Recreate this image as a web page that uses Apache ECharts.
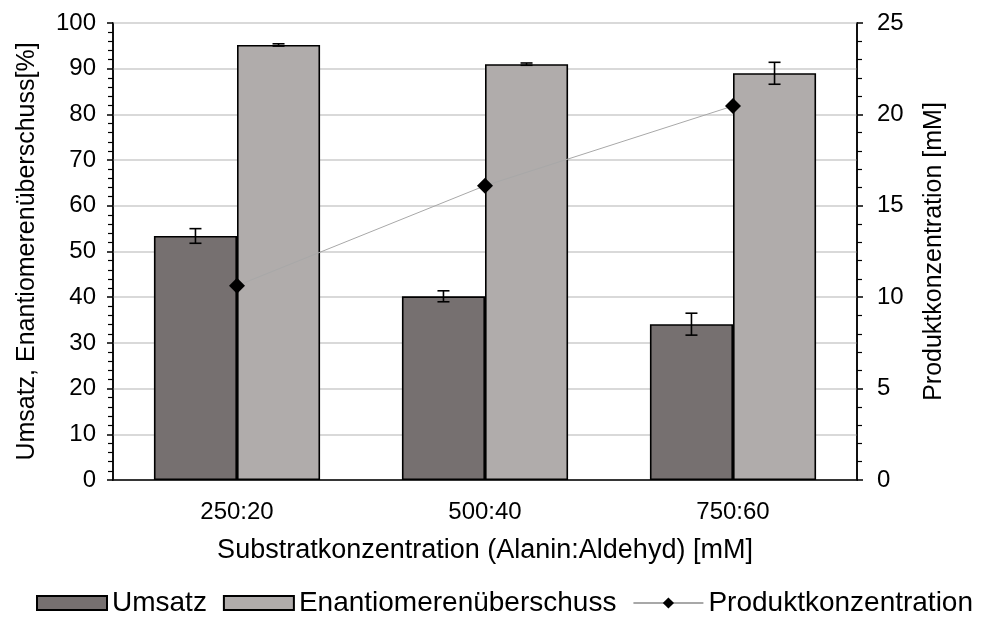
<!DOCTYPE html>
<html lang="de">
<head>
<meta charset="utf-8">
<title>Substratkonzentration</title>
<script src="https://cdn.jsdelivr.net/npm/echarts@6/dist/echarts.min.js"></script>
<style>
  html, body { margin: 0; padding: 0; background: #fff; }
  #main { width: 983px; height: 619px; }
</style>
</head>
<body>
<div id="main"></div>
<script type="text/javascript">
  // Daten
  var categories = ['250:20', '500:40', '750:60'];
  var umsatz = [53.4, 40.2, 34.1];
  var umsatzErr = [1.6, 1.2, 2.4];
  var enantio = [95.2, 91.0, 89.0];
  var enantioErr = [0.25, 0.25, 2.4];
  var produkt = [10.63, 16.1, 20.46];

  var BAR_W = 0.335; // Anteil der Kategoriebreite je Balken
  var FONT = 'Liberation Sans, Arial, sans-serif';

  // Fehlerbalken als custom series
  function errorSeries(values, errs, side) {
    var data = values.map(function (v, i) { return [i, v - errs[i], v + errs[i]]; });
    return {
      type: 'custom',
      silent: true,
      z: 5,
      renderItem: function (params, api) {
        var band = api.size([1, 0])[0];
        var off = side * band * BAR_W / 2;
        var lo = api.coord([api.value(0), api.value(1)]);
        var hi = api.coord([api.value(0), api.value(2)]);
        var x = lo[0] + off;
        var cap = 6;
        var st = { stroke: '#000', lineWidth: 1.6 };
        return {
          type: 'group',
          children: [
            { type: 'line', shape: { x1: x, y1: lo[1], x2: x, y2: hi[1] }, style: st },
            { type: 'line', shape: { x1: x - cap, y1: lo[1], x2: x + cap, y2: lo[1] }, style: st },
            { type: 'line', shape: { x1: x - cap, y1: hi[1], x2: x + cap, y2: hi[1] }, style: st }
          ]
        };
      },
      data: data
    };
  }

  var myChart = echarts.init(document.getElementById('main'));

  var option = {
    animation: false,
    textStyle: { fontFamily: FONT, color: '#000' },
    grid: {
      left: 113, right: 126, top: 23, bottom: 139,
      show: true, borderColor: '#000', borderWidth: 1.5
    },
    legend: {
      top: 589,
      left: 36,
      width: 947,
      padding: 0,
      itemWidth: 70,
      itemHeight: 14,
      itemGap: 16,
      textStyle: { fontSize: 28, fontFamily: FONT, color: '#000' },
      data: [
        { name: 'Umsatz', icon: 'rect' },
        { name: 'Enantiomerenüberschuss', icon: 'rect' },
        { name: 'Produktkonzentration' }
      ]
    },
    xAxis: {
      type: 'category',
      data: categories,
      name: 'Substratkonzentration (Alanin:Aldehyd) [mM]',
      nameLocation: 'middle',
      nameGap: 57,
      nameTextStyle: { fontSize: 27, color: '#000' },
      axisLine: { lineStyle: { color: '#000', width: 1.5 } },
      axisTick: { show: false },
      axisLabel: { fontSize: 24, color: '#000', margin: 20 }
    },
    yAxis: [
      {
        type: 'value',
        min: 0, max: 100, interval: 10,
        name: 'Umsatz, Enantiomerenüberschuss[%]',
        nameLocation: 'middle',
        nameRotate: 90,
        nameGap: 73,
        nameTextStyle: { fontSize: 25, color: '#000' },
        axisLine: { show: true, lineStyle: { color: '#000', width: 1.5 } },
        axisTick: { show: true, length: 6, lineStyle: { color: '#000', width: 1.5 } },
        minorTick: { show: true, splitNumber: 5, length: 5, lineStyle: { color: '#000', width: 1.2 } },
        axisLabel: { fontSize: 24, color: '#000', margin: 17 },
        splitLine: { lineStyle: { color: '#d9d9d9', width: 2 } }
      },
      {
        type: 'value',
        min: 0, max: 25, interval: 5,
        position: 'right',
        name: 'Produktkonzentration [mM]',
        nameLocation: 'middle',
        nameRotate: 90,
        nameGap: 65,
        nameTextStyle: { fontSize: 25, color: '#000' },
        axisLine: { show: true, lineStyle: { color: '#000', width: 1.5 } },
        axisTick: { show: true, length: 6, lineStyle: { color: '#000', width: 1.5 } },
        minorTick: { show: true, splitNumber: 5, length: 5, lineStyle: { color: '#000', width: 1.2 } },
        axisLabel: { fontSize: 24, color: '#000', margin: 20 },
        splitLine: { show: false }
      }
    ],
    series: [
      {
        name: 'Umsatz',
        type: 'bar',
        barWidth: (BAR_W * 100) + '%',
        barGap: '0%',
        itemStyle: { color: '#767070', borderColor: '#000', borderWidth: 1.6 },
        data: umsatz
      },
      {
        name: 'Enantiomerenüberschuss',
        type: 'bar',
        barWidth: (BAR_W * 100) + '%',
        barGap: '0%',
        itemStyle: { color: '#b0acab', borderColor: '#000', borderWidth: 1.6 },
        data: enantio
      },
      errorSeries(umsatz, umsatzErr, -1),
      errorSeries(enantio, enantioErr, 1),
      {
        name: 'Produktkonzentration',
        type: 'line',
        yAxisIndex: 1,
        symbol: 'diamond',
        symbolSize: 16,
        z: 6,
        lineStyle: { color: '#a8a8a8', width: 1 },
        itemStyle: { color: '#000' },
        data: produkt
      }
    ]
  };

  myChart.setOption(option);
</script>
</body>
</html>
